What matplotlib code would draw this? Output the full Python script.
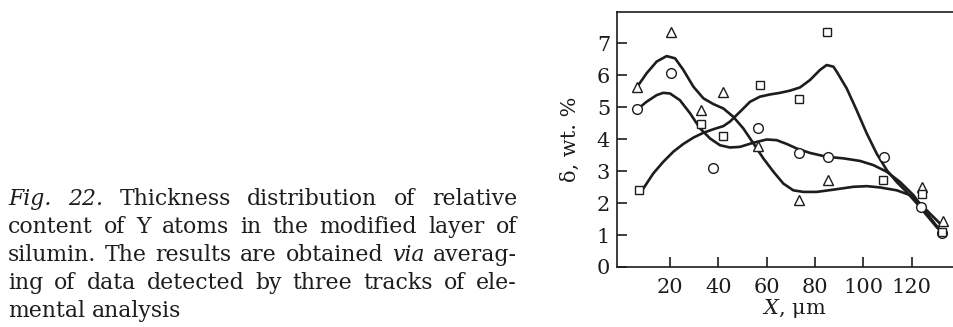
import matplotlib
matplotlib.use("Agg")
import matplotlib.pyplot as plt

plt.rcParams['font.family'] = ['DejaVu Serif']
plt.rcParams['mathtext.fontset'] = 'dejavuserif'

# ---------------- data ----------------
tri_x = [6.2, 20.3, 32.7, 41.8, 56.3, 73.4, 85.5, 124.1, 133.1]
tri_y = [5.62, 7.35, 4.91, 5.47, 3.78, 2.09, 2.71, 2.51, 1.44]

circ_x = [6.2, 20.3, 37.9, 56.6, 73.4, 85.2, 108.6, 123.7, 132.4]
circ_y = [4.93, 6.08, 3.10, 4.36, 3.58, 3.45, 3.43, 1.88, 1.07]

sq_x = [7.3, 32.8, 41.8, 57.4, 73.5, 84.8, 108.0, 124.4, 132.4]
sq_y = [2.40, 4.49, 4.10, 5.69, 5.25, 7.34, 2.71, 2.30, 1.08]

# fitted curves
tri_curve_x = [6.9, 10.3, 14.5, 18.6, 22.1, 25.5, 29.7, 33.8, 37.9, 42.1, 46.2, 50.3,
               54.5, 58.6, 62.8, 66.9, 71.0, 75.2, 80.7, 87.6, 95.9, 101.4, 106.9,
               113.8, 119.3, 123.4, 127.6, 131.7]
tri_curve_y = [5.69, 6.06, 6.43, 6.60, 6.53, 6.17, 5.64, 5.28, 5.10, 4.96, 4.70, 4.34,
               3.87, 3.40, 2.98, 2.61, 2.40, 2.35, 2.35, 2.42, 2.51, 2.53, 2.49,
               2.40, 2.25, 1.99, 1.67, 1.36]

circ_curve_x = [6.9, 10.3, 14.5, 17.2, 20.0, 24.1, 28.3, 32.4, 36.6, 40.7, 44.8, 49.0,
                54.5, 60.0, 64.1, 68.3, 72.4, 77.9, 84.8, 91.7, 98.6, 104.1, 109.7,
                115.2, 120.7, 124.8, 129.0, 131.7]
circ_curve_y = [4.96, 5.17, 5.38, 5.45, 5.43, 5.22, 4.81, 4.34, 4.02, 3.81, 3.74, 3.76,
                3.89, 3.99, 3.97, 3.85, 3.71, 3.57, 3.45, 3.40, 3.32, 3.19, 2.98,
                2.66, 2.25, 1.83, 1.41, 1.15]

sq_curve_x = [9.0, 13.1, 17.2, 21.4, 25.5, 29.7, 33.8, 37.9, 42.1, 44.8, 49.0, 53.1,
              57.2, 61.4, 65.5, 69.7, 73.8, 77.9, 82.1, 84.8, 87.6, 89.0, 93.1, 97.2,
              101.4, 105.5, 109.7, 113.8, 117.9, 122.1, 126.2, 130.3, 131.7]
sq_curve_y = [2.46, 2.93, 3.29, 3.61, 3.85, 4.05, 4.20, 4.31, 4.41, 4.55, 4.86, 5.17,
              5.33, 5.40, 5.45, 5.52, 5.62, 5.85, 6.17, 6.32, 6.27, 6.11, 5.59, 4.91,
              4.18, 3.55, 3.03, 2.66, 2.35, 1.99, 1.62, 1.25, 1.15]

x_ticks = [20, 40, 60, 80, 100, 120]
y_ticks = [0, 1, 2, 3, 4, 5, 6, 7]

caption_lines = [
    [("Fig.", "italic"), ("22.", "italic"), ("Thickness", "normal"),
     ("distribution", "normal"), ("of", "normal"), ("relative", "normal")],
    [("content", "normal"), ("of", "normal"), ("Y", "normal"), ("atoms", "normal"),
     ("in", "normal"), ("the", "normal"), ("modified", "normal"), ("layer", "normal"),
     ("of", "normal")],
    [("silumin.", "normal"), ("The", "normal"), ("results", "normal"), ("are", "normal"),
     ("obtained", "normal"), ("via", "italic"), ("averag-", "normal")],
    [("ing", "normal"), ("of", "normal"), ("data", "normal"), ("detected", "normal"),
     ("by", "normal"), ("three", "normal"), ("tracks", "normal"), ("of", "normal"),
     ("ele-", "normal")],
    [("mental", "normal"), ("analysis", "normal")],
]

# ---------------- figure ----------------
W, H = 954, 327
INK = '#1e1c1c'
fig = plt.figure(figsize=(W / 100, H / 100), dpi=100)
ax = fig.add_axes([617 / W, 1 - 267 / H, (W - 617) / W, (267 - 12) / H])

for cx, cy in [(tri_curve_x, tri_curve_y), (circ_curve_x, circ_curve_y),
               (sq_curve_x, sq_curve_y)]:
    ax.plot(cx, cy, color=INK, lw=1.9, solid_capstyle='round',
            solid_joinstyle='round', zorder=2)

mk = dict(ls='none', mfc='white', mec=INK, mew=1.0, zorder=3)
ax.plot(tri_x, tri_y, marker='^', ms=7.6, **mk)
ax.plot(circ_x, circ_y, marker='o', ms=7.0, **mk)
ax.plot(sq_x, sq_y, marker='s', ms=6.2, **mk)

ax.set_xlim(-1.93, 137.5)
ax.set_ylim(0, 7.98)
ax.set_xticks(x_ticks)
ax.set_yticks(y_ticks)
ax.tick_params(direction='in', length=7, width=1.2, labelsize=15,
               color=INK, labelcolor=INK)
ax.tick_params(axis='x', pad=8)
ax.tick_params(axis='y', pad=5)
ax.spines['right'].set_visible(False)
for s in ['left', 'top', 'bottom']:
    ax.spines[s].set_linewidth(1.2)
    ax.spines[s].set_color(INK)

fig.text(570 / W, 1 - 139 / H, "δ, wt. %", rotation=90, ha='center', va='center',
         fontsize=15, color=INK)
fig.text(794 / W, 1 - 309 / H, r"$X$, μm", ha='center', va='center',
         fontsize=15, color=INK)

# ---------------- caption (justified) ----------------
cap_fs = 15.8
left, right = 8, 517
baselines = [205, 233, 261, 289, 317]
renderer = fig.canvas.get_renderer()
probe = fig.text(0, 0, "a b", fontsize=cap_fs)
w_ab = fig.text(0, 0, "ab", fontsize=cap_fs)
space_w = probe.get_window_extent(renderer).width - w_ab.get_window_extent(renderer).width
probe.remove(); w_ab.remove()
for i, words in enumerate(caption_lines):
    y = 1 - baselines[i] / H
    texts = [fig.text(0, y, w, style=st, fontsize=cap_fs, va='baseline', ha='left',
                      color=INK) for w, st in words]
    widths = [t.get_window_extent(renderer).width for t in texts]
    if i < len(caption_lines) - 1:
        gap = (right - left - sum(widths)) / (len(texts) - 1)
    else:
        gap = space_w
    x = left
    for t, w in zip(texts, widths):
        t.set_x(x / W)
        x += w + gap

fig.savefig("out.png", dpi=100)
